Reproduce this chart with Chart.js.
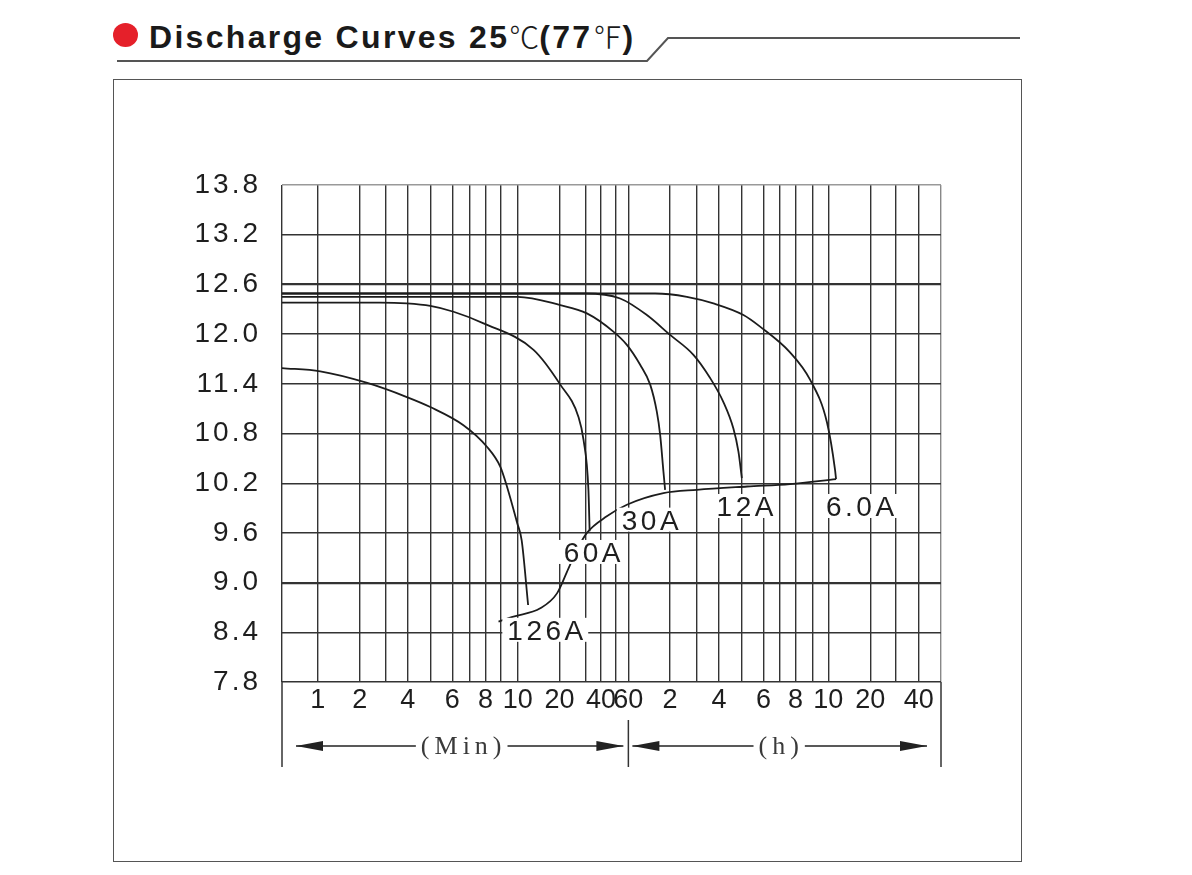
<!DOCTYPE html>
<html>
<head>
<meta charset="utf-8">
<script src="https://cdn.jsdelivr.net/npm/chart.js@4.4.1/dist/chart.umd.min.js"></script>
<style>
  html, body { margin: 0; padding: 0; background: #fff; }
  #wrap { position: relative; width: 1192px; height: 875px; overflow: hidden; }
  #c { position: absolute; left: 0; top: 0; }
  #frame { position: absolute; left: 113px; top: 79px; width: 907px; height: 781px; border: 1.5px solid #555; box-sizing: content-box; }
  #dot { position: absolute; left: 113px; top: 23px; width: 25px; height: 24px; border-radius: 50%; background: #e5202a; }
  #title { position: absolute; left: 149px; top: 19px; font: bold 32px "Liberation Sans", Arial, sans-serif; letter-spacing: 2.3px; color: #1a1a1a; white-space: nowrap; line-height: 32px; }
  #title .deg { font-family: "Noto Sans CJK SC", "DejaVu Sans", sans-serif; font-weight: 300; font-size: 30px; letter-spacing: 0; }
  #rule { position: absolute; left: 0; top: 0; }
</style>
</head>
<body>
<div id="wrap">
  <div id="frame"></div>
  <svg id="rule" width="1192" height="80"><polyline points="117,61 647,61 668,38 1020,38" fill="none" stroke="#555" stroke-width="2"/></svg>
  <div id="dot"></div>
  <div id="title">Discharge Curves 25<span class="deg">℃</span>(77<span class="deg">℉</span>)</div>
  <canvas id="c" width="1192" height="875"></canvas>
</div>
<script>
// ---------- axis definitions ----------
const yTicks = [7.8, 8.4, 9.0, 9.6, 10.2, 10.8, 11.4, 12.0, 12.6, 13.2, 13.8];
// semi-log graph paper: grid lines in minutes and where each one sits along the axis (0..1)
const xGridMinutes  = [0, 1, 2, 3, 4, 5, 6, 7, 8, 9, 10, 20, 30, 40, 50, 60, 120, 180, 240, 300, 360, 420, 480, 540, 600, 1200, 1800, 2400, 3600];
const xGridFraction = [0, 0.0543, 0.1180, 0.1574, 0.1908, 0.2257, 0.2583, 0.2841, 0.3088, 0.3326, 0.3576, 0.4211, 0.4608, 0.4840, 0.5067, 0.5256, 0.5887, 0.6292, 0.6633, 0.6970, 0.7306, 0.7555, 0.7792, 0.8049, 0.8289, 0.8928, 0.9316, 0.9662, 1];
const xTickMinutes = [1, 2, 4, 6, 8, 10, 20, 40, 60, 120, 240, 360, 480, 600, 1200, 2400];
const xTickLabels  = ['1', '2', '4', '6', '8', '10', '20', '40', '60', '2', '4', '6', '8', '10', '20', '40'];

// ---------- data (time in minutes, voltage in V) ----------
const seriesNames = ['126A', '60A', '30A', '12A', '6.0A'];
const t126 = [0, 1.06, 2.29, 3.96, 4.98, 6.66, 8.09, 8.94, 9.35, 9.97, 10.96, 12.5];
const v126 = [11.59, 11.55, 11.41, 11.24, 11.12, 10.90, 10.64, 10.40, 10.16, 9.72, 9.51, 8.73];
const t60 = [0, 2.79, 3.96, 4.98, 6.08, 7.88, 13.8, 20.3, 27.25, 29.2, 31.8, 32.6];
const v60 = [12.38, 12.38, 12.37, 12.34, 12.27, 12.13, 11.81, 11.39, 11.0, 10.72, 10.12, 9.62];
const t30 = [0, 10, 20.3, 30.8, 48.3, 58.8, 77, 91.5, 101.1, 105.9, 110.6, 113];
const v30 = [12.45, 12.45, 12.35, 12.25, 12.03, 11.87, 11.63, 11.39, 11.06, 10.78, 10.34, 10.12];
const t12 = [0, 29.8, 53.4, 86.7, 120.4, 172.8, 216, 251.6, 278.6, 292.2, 301.4];
const v12 = [12.49, 12.49, 12.43, 12.23, 11.99, 11.75, 11.47, 11.18, 10.86, 10.58, 10.26];
const t6 = [0, 98.7, 158, 224.8, 305.7, 350.8, 459, 531.6, 595.5, 696.9, 711];
const v6 = [12.49, 12.49, 12.45, 12.37, 12.23, 12.09, 11.78, 11.45, 10.93, 10.36, 10.25];
// final (cut-off) voltage line joining the curve ends
const tEnd = [8.83, 9.75, 15.4, 19.4, 23.4, 27.1, 30.8, 43.9, 58.8, 110.6, 180.5, 315.7, 459, 711];
const vEnd = [8.53, 8.59, 8.69, 8.87, 9.17, 9.42, 9.60, 9.80, 9.94, 10.08, 10.12, 10.16, 10.19, 10.25];
// where each current label sits (minutes, volts)
const labelMinutes = [16.6, 34.2, 91.5, 310, 1053];
const labelVolts = [8.43, 9.37, 9.76, 9.925, 9.925];

// ---------- custom scales ----------
function toFraction(v) {
  const g = xGridMinutes, f = xGridFraction;
  if (v <= g[0]) return f[0];
  for (let i = 1; i < g.length; i++) {
    if (v <= g[i]) return f[i - 1] + (v - g[i - 1]) / (g[i] - g[i - 1]) * (f[i] - f[i - 1]);
  }
  return f[f.length - 1];
}
function fromFraction(d) {
  const g = xGridMinutes, f = xGridFraction;
  if (d <= f[0]) return g[0];
  for (let i = 1; i < f.length; i++) {
    if (d <= f[i]) return g[i - 1] + (d - f[i - 1]) / (f[i] - f[i - 1]) * (g[i] - g[i - 1]);
  }
  return g[g.length - 1];
}
class SegmentScale extends Chart.LinearScale {
  static id = 'segment';
  getPixelForValue(value) { return this.getPixelForDecimal(toFraction(value)); }
  getValueForPixel(pixel) { return fromFraction(this.getDecimalForPixel(pixel)); }
}
const Y_LABEL_SPACING = '3px';
class SpacedLinearScale extends Chart.LinearScale {
  static id = 'spacedLinear';
  drawLabels(area) {
    const ctx = this.ctx;
    ctx.save();
    ctx.letterSpacing = Y_LABEL_SPACING;
    super.drawLabels(area);
    ctx.restore();
  }
}
Chart.register(SegmentScale, SpacedLinearScale);

// ---------- decorations ----------
const LABEL_FONT = '28px "Liberation Sans", Arial, sans-serif';
const LABEL_LS = 3.5;
const decor = {
  id: 'decor',
  afterDatasetsDraw(chart) {
    const { ctx, scales: { x, y } } = chart;
    ctx.save();
    ctx.font = LABEL_FONT;
    ctx.letterSpacing = LABEL_LS + 'px';
    ctx.textAlign = 'left';
    ctx.textBaseline = 'alphabetic';
    seriesNames.forEach((s, i) => {
      const w = ctx.measureText(s).width - LABEL_LS;
      const cx = x.getPixelForValue(labelMinutes[i]);
      const cy = y.getPixelForValue(labelVolts[i]);
      ctx.fillStyle = '#fff';
      ctx.fillRect(cx - w / 2 - 5, cy - 12, w + 10, 24);
      ctx.fillStyle = '#1e1e1e';
      ctx.fillText(s, cx - w / 2, cy + 10);
    });
    ctx.restore();
  },
  afterDraw(chart) {
    const { ctx, chartArea: { left, right, bottom }, scales: { x } } = chart;
    const sep = x.getPixelForValue(60);
    const yEnd = bottom + 85;
    const ay = bottom + 64;
    ctx.save();
    ctx.strokeStyle = '#333';
    ctx.lineWidth = 1.5;
    const seg = (x1, y1, x2, y2) => { ctx.beginPath(); ctx.moveTo(x1, y1); ctx.lineTo(x2, y2); ctx.stroke(); };
    seg(left, bottom, left, yEnd);
    seg(right, bottom, right, yEnd);
    seg(sep, bottom + 38, sep, yEnd);
    ctx.font = '26px "Liberation Serif", "DejaVu Serif", serif';
    const ls = 5;
    ctx.letterSpacing = ls + 'px';
    ctx.textBaseline = 'middle';
    ctx.textAlign = 'left';
    ctx.lineWidth = 1.3;
    ctx.strokeStyle = '#222';
    const head = (tipX, dir) => {
      ctx.fillStyle = '#222';
      ctx.beginPath();
      ctx.moveTo(tipX, ay);
      ctx.lineTo(tipX + dir * 27, ay - 5);
      ctx.lineTo(tipX + dir * 27, ay + 5);
      ctx.closePath();
      ctx.fill();
    };
    const section = (a, b, cx, txt) => {
      const w = ctx.measureText(txt).width - ls;
      const t0 = cx - w / 2;
      seg(a, ay, t0 - 5, ay);
      seg(t0 + w + 6, ay, b, ay);
      head(a, 1);
      head(b, -1);
      ctx.fillStyle = '#3a3a3a';
      ctx.fillText(txt, t0, ay + 1);
    };
    section(left + 14, sep - 5, (left + sep) / 2 + 6, '(Min)');
    section(sep + 4, right - 14, (sep + right) / 2 - 6, '(h)');
    ctx.restore();
  }
};

// ---------- chart ----------
const pts = (t, v) => t.map((tt, i) => ({ x: tt, y: v[i] }));
const lineStyle = { borderColor: '#1c1c1c', borderWidth: 1.8, pointRadius: 0, fill: false, cubicInterpolationMode: 'monotone' };
const datasets = [
  { label: seriesNames[0], data: pts(t126, v126), ...lineStyle },
  { label: seriesNames[1], data: pts(t60, v60), ...lineStyle },
  { label: seriesNames[2], data: pts(t30, v30), ...lineStyle },
  { label: seriesNames[3], data: pts(t12, v12), ...lineStyle },
  { label: seriesNames[4], data: pts(t6, v6), ...lineStyle },
  { label: 'end', data: pts(tEnd, vEnd), ...lineStyle }
];

new Chart(document.getElementById('c'), {
  type: 'line',
  data: { datasets },
  plugins: [decor],
  options: {
    responsive: false,
    devicePixelRatio: 1,
    animation: false,
    layout: { padding: { left: 182, right: 251, top: 185, bottom: 93 } },
    plugins: { legend: { display: false }, tooltip: { enabled: false } },
    scales: {
      x: {
        type: 'segment',
        min: 0, max: 3600,
        afterBuildTicks: (s) => { s.ticks = xGridMinutes.map(v => ({ value: v })); },
        afterFit: (s) => { s.height = 100; },
        border: { display: false },
        grid: {
          drawTicks: false,
          color: (c) => (c.tick && c.tick.value === 3600) ? '#888' : '#333',
          lineWidth: 1.4
        },
        ticks: {
          autoSkip: false, maxRotation: 0, minRotation: 0, padding: 2,
          color: '#1e1e1e',
          font: { family: '"Liberation Sans", Arial, sans-serif', size: 27 },
          callback: (value) => { const i = xTickMinutes.indexOf(value); return i >= 0 ? xTickLabels[i] : ''; }
        }
      },
      y: {
        type: 'spacedLinear',
        min: 7.8, max: 13.8,
        afterBuildTicks: (s) => { s.ticks = yTicks.map(v => ({ value: v })); },
        afterFit: (s) => { s.width = 100; },
        border: { display: false },
        grid: {
          drawTicks: false,
          color: (c) => (c.tick && c.tick.value === 13.8) ? '#999' : '#333',
          lineWidth: (c) => (c.tick && (c.tick.value === 12.6 || c.tick.value === 9.0)) ? 2.2 : 1.4
        },
        ticks: {
          padding: 21,
          color: '#1e1e1e',
          font: { family: '"Liberation Sans", Arial, sans-serif', size: 28 },
          callback: (value) => Number(value).toFixed(1)
        }
      }
    }
  }
});
</script>
</body>
</html>
